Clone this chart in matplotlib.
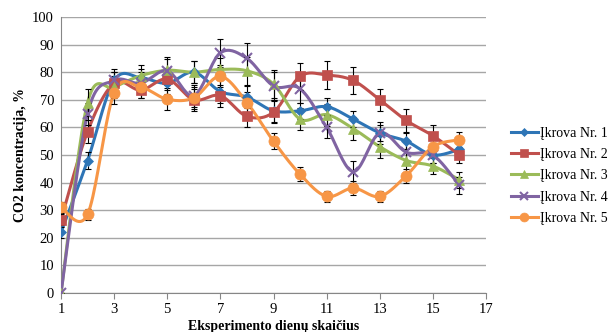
import numpy as np
import matplotlib
matplotlib.use("Agg")
import matplotlib.pyplot as plt
from matplotlib.lines import Line2D

days = list(range(1, 17))
labels = ["Įkrova Nr. 1", "Įkrova Nr. 2", "Įkrova Nr. 3", "Įkrova Nr. 4", "Įkrova Nr. 5"]

s1 = [22, 48, 77, 78, 76, 80, 73, 71, 66, 66, 67.5, 63, 58, 55, 50, 52]
s2 = [26.5, 58.5, 76, 73.5, 77.5, 70, 71.5, 64, 65.5, 78.5, 79, 77, 70, 62.5, 57, 50]
s3 = [0, 69, 74.5, 78.7, 80.7, 80, 81, 80.5, 75.7, 63, 64.6, 59.6, 53, 48, 46, 41]
s4 = [0, 65, 77, 76, 80.5, 71.5, 87, 85, 75, 74, 60, 44, 58, 51, 50, 39]
s5 = [31, 28.5, 72.5, 74.5, 70.2, 70.7, 78.5, 69, 55, 43, 35, 38, 35, 42.5, 53, 55.5]

e1 = [2, 3, 3, 3, 4, 4, 4, 4, 4, 3, 3, 3, 3, 3, 3, 3]
e2 = [2, 4, 4, 3, 4, 4, 4, 4, 4, 5, 5, 5, 4, 4, 4, 3]
e3 = [0, 5, 4, 4, 4, 4, 4, 5, 5, 4, 4, 4, 4, 4, 3, 3]
e4 = [0, 4, 4, 4, 5, 4, 5, 5.5, 5, 5, 4, 4, 4, 4, 3, 3]
e5 = [2, 2, 4, 4, 4, 4, 4, 4, 3, 2.5, 2, 2.5, 2, 2.5, 3, 3]

colors = ["#2E75B6", "#C0504D", "#9BBB59", "#8064A2", "#F79646"]
markers = ["D", "s", "^", "x", "o"]
msizes = [5.5, 7, 7, 7, 8]

plt.rcParams['font.family'] = ['Liberation Serif', 'DejaVu Serif']


def smooth(x, y, n=20):
    x = np.asarray(x, float)
    y = np.asarray(y, float)
    px = np.concatenate([[x[0]], x, [x[-1]]])
    py = np.concatenate([[y[0]], y, [y[-1]]])
    xs, ys = [], []
    for i in range(1, len(px) - 2):
        p0 = np.array([px[i - 1], py[i - 1]])
        p1 = np.array([px[i], py[i]])
        p2 = np.array([px[i + 1], py[i + 1]])
        p3 = np.array([px[i + 2], py[i + 2]])
        c1 = p1 + (p2 - p0) / 6
        c2 = p2 - (p3 - p1) / 6
        t = np.linspace(0, 1, n, endpoint=(i == len(px) - 3))
        b = ((1 - t) ** 3)[:, None] * p1 + (3 * (1 - t) ** 2 * t)[:, None] * c1 + \
            (3 * (1 - t) * t ** 2)[:, None] * c2 + (t ** 3)[:, None] * p2
        xs.append(b[:, 0])
        ys.append(b[:, 1])
    return np.concatenate(xs), np.concatenate(ys)


fig = plt.figure(figsize=(6.09, 3.32), dpi=100)
ax = fig.add_axes([61 / 609, 1 - 293 / 332, (486 - 61) / 609, (293 - 17) / 332])

series = [s1, s2, s3, s4, s5]
errs = [e1, e2, e3, e4, e5]
handles = []
for s, e, c, m, ms, lab in zip(series, errs, colors, markers, msizes, labels):
    sx, sy = smooth(days, s)
    ax.plot(sx, sy, color=c, lw=2.2, zorder=3)
    ax.errorbar(days, s, yerr=e, fmt='none', ecolor='black', elinewidth=0.8,
                capsize=2.5, capthick=0.8, zorder=4)
    ax.plot(days, s, linestyle='none', marker=m, color=c, ms=ms,
            mew=1.5 if m == 'x' else 0.5, mec=c, zorder=5)
    handles.append(Line2D([0], [0], color=c, lw=2.2, marker=m, ms=ms * 0.8, mec=c,
                          mew=1.5 if m == 'x' else 0.5))

ax.set_xlim(1, 17)
ax.set_ylim(0, 100)
ax.set_xticks(range(1, 18, 2))
ax.set_yticks(range(0, 101, 10))
ax.yaxis.grid(True, color="#a6a6a6", lw=1)
ax.set_axisbelow(True)
for sp in ['top', 'right']:
    ax.spines[sp].set_visible(False)
ax.spines['left'].set_color("#868686")
ax.spines['bottom'].set_color("#868686")
ax.tick_params(axis='x', direction='out', length=4, color="#868686", labelsize=10.5, pad=3)
ax.tick_params(axis='y', length=0, labelsize=10.5, pad=5)

ax.set_ylabel("CO2 koncentracija, %", fontsize=10, fontweight='bold', labelpad=4)
ax.set_xlabel("Eksperimento dienų skaičius", fontsize=10, fontweight='bold', labelpad=3)

fig.legend(handles, labels, loc='upper left', bbox_to_anchor=(505 / 609, 1 - 121 / 332),
           frameon=False, fontsize=10, handlelength=2.0, handletextpad=0.15,
           labelspacing=0.6, borderaxespad=0)

fig.savefig("out.png", dpi=100)
